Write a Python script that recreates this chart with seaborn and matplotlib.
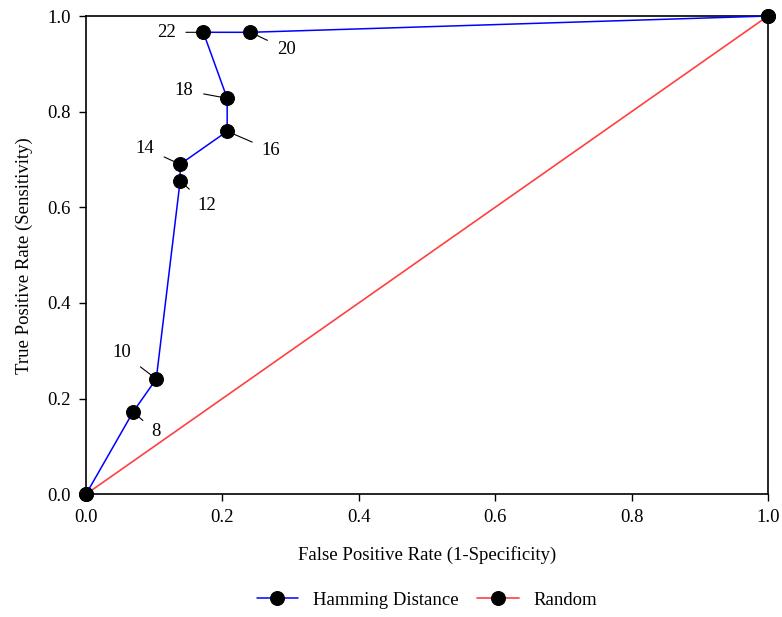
import matplotlib
matplotlib.use("Agg")
import matplotlib.pyplot as plt
import seaborn as sns
import pandas as pd

sns.set_theme(style="white")
plt.rcParams['font.family'] = ['Liberation Serif', 'DejaVu Serif']
plt.rcParams['text.color'] = 'black'

# Data
fpr = [0.0, 0.069, 0.103, 0.138, 0.138, 0.207, 0.207, 0.172, 0.241, 1.0]
tpr = [0.0, 0.172, 0.241, 0.655, 0.690, 0.759, 0.828, 0.966, 0.966, 1.0]
point_labels = ["", "8", "10", "12", "14", "16", "18", "22", "20", ""]
random_x = [0.0, 1.0]
random_y = [0.0, 1.0]
ticks = [0.0, 0.2, 0.4, 0.6, 0.8, 1.0]
tick_labels = ["0.0", "0.2", "0.4", "0.6", "0.8", "1.0"]

# label offsets in pixels (dx, dy) -- dy positive = up
label_offsets = {"8": (23, -20), "10": (-34, 26), "12": (27, -24), "14": (-35, 16),
                 "16": (44, -19), "18": (-43, 8), "22": (-37, 0), "20": (36, -17)}

FS = 13.5

fig = plt.figure(figsize=(7.82, 6.17), dpi=100)
ax = fig.add_axes([0.110, 0.199, 0.872, 0.775])

df_h = pd.DataFrame({"x": fpr, "y": tpr})
df_r = pd.DataFrame({"x": random_x, "y": random_y})

sns.lineplot(data=df_r, x="x", y="y", ax=ax, sort=False, estimator=None,
             color="#ff4040", linewidth=1.2, marker="o", markersize=10,
             markerfacecolor="black", markeredgecolor="black", label="Random",
             clip_on=False, zorder=3)
sns.lineplot(data=df_h, x="x", y="y", ax=ax, sort=False, estimator=None,
             color="#0000ff", linewidth=1.1, marker="o", markersize=10,
             markerfacecolor="black", markeredgecolor="black",
             label="Hamming Distance", clip_on=False, zorder=4)

for x, y, lab in zip(fpr, tpr, point_labels):
    if not lab:
        continue
    dx, dy = label_offsets[lab]
    ax.annotate(lab, xy=(x, y), xytext=(dx, dy), textcoords="offset pixels",
                ha="center", va="center", fontsize=FS, color="black",
                arrowprops=dict(arrowstyle="-", color="black", lw=0.8,
                                shrinkA=5, shrinkB=4))

ax.set_xlim(0, 1)
ax.set_ylim(0, 1)
ax.set_xticks(ticks)
ax.set_xticklabels(tick_labels)
ax.set_yticks(ticks)
ax.set_yticklabels(tick_labels)
ax.tick_params(axis="both", which="both", direction="out", length=5, width=1,
               color="black", labelsize=FS, labelcolor="black",
               bottom=True, left=True, top=False, right=False, pad=6)
for s in ax.spines.values():
    s.set_color("black")
    s.set_linewidth(1.2)

ax.set_xlabel("False Positive Rate (1-Specificity)", fontsize=FS, color="black", labelpad=14)
ax.set_ylabel("True Positive Rate (Sensitivity)", fontsize=FS, color="black", labelpad=10)

handles, labels = ax.get_legend_handles_labels()
order = [labels.index("Hamming Distance"), labels.index("Random")]
ax.legend([handles[i] for i in order], [labels[i] for i in order],
          loc="center", bbox_to_anchor=(0.5, -0.222), ncol=2, frameon=False,
          fontsize=FS, handlelength=2.2, columnspacing=1.0, handletextpad=0.8,
          labelcolor="black")

fig.savefig("out.png", dpi=100)
